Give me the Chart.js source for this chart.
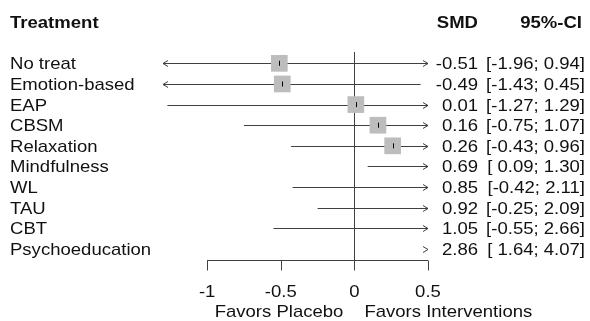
<!DOCTYPE html>
<html>
<head>
<meta charset="utf-8">
<script src="https://cdn.jsdelivr.net/npm/chart.js@4"></script>
<style>
  html, body { margin: 0; padding: 0; background: #fff; }
  canvas { display: block; }
</style>
</head>
<body>
<canvas id="forest" width="590" height="321"></canvas>
<script>
const treatments = ['No treat', 'Emotion-based', 'EAP', 'CBSM', 'Relaxation', 'Mindfulness', 'WL', 'TAU', 'CBT', 'Psychoeducation'];
const smd = [-0.51, -0.49, 0.01, 0.16, 0.26, 0.69, 0.85, 0.92, 1.05, 2.86];
const ciLower = [-1.96, -1.43, -1.27, -0.75, -0.43, 0.09, -0.42, -0.25, -0.55, 1.64];
const ciUpper = [0.94, 0.45, 1.29, 1.07, 0.96, 1.30, 2.11, 2.09, 2.66, 4.07];
const xTicks = [-1, -0.5, 0, 0.5];
const labelLeft = 'Favors Placebo';
const labelRight = 'Favors Interventions';

const X_MIN = -1.3, X_MAX = 0.5;
const FONT = '"Liberation Sans", Arial, sans-serif';
const SX = 1.09; // text looks a little wide in the original
const LINE = '#404040';

function txt(ctx, s, x, y, align, bold) {
    ctx.save();
    ctx.font = (bold ? 'bold ' : '') + '17px ' + FONT;
    ctx.fillStyle = '#111';
    ctx.textAlign = align;
    ctx.textBaseline = 'alphabetic';
    ctx.translate(x, y);
    ctx.scale(SX, 1);
    ctx.fillText(s, 0, 0);
    ctx.restore();
}

function fmt(v) { return v.toFixed(2); }
function ciText(i) {
    const lo = ciLower[i] < 0 ? fmt(ciLower[i]) : ' ' + fmt(ciLower[i]);
    return '[' + lo + '; ' + fmt(ciUpper[i]) + ']';
}

// CI lines, arrows, zero line and bottom axis
const forestLines = {
    id: 'forestLines',
    beforeDatasetsDraw(chart) {
        const { ctx, scales: { x, y } } = chart;
        ctx.save();
        ctx.strokeStyle = LINE;
        ctx.lineWidth = 1;

        // zero line
        const x0 = Math.round(x.getPixelForValue(0)) + 0.5;
        ctx.beginPath();
        ctx.moveTo(x0, y.getPixelForValue(-0.55));
        ctx.lineTo(x0, y.getPixelForValue(9.55));
        ctx.stroke();

        treatments.forEach((t, i) => {
            const py = Math.round(y.getPixelForValue(i)) + 0.5;
            const lo = Math.max(ciLower[i], X_MIN);
            const hi = Math.min(ciUpper[i], X_MAX);
            const pl = x.getPixelForValue(lo);
            const pr = x.getPixelForValue(hi);
            if (ciLower[i] < X_MAX && ciUpper[i] > X_MIN) {
                ctx.beginPath();
                ctx.moveTo(pl, py);
                ctx.lineTo(pr, py);
                ctx.stroke();
            }
            if (ciLower[i] < X_MIN) {
                ctx.beginPath();
                ctx.moveTo(pl + 5, py - 3);
                ctx.lineTo(pl, py);
                ctx.lineTo(pl + 5, py + 3);
                ctx.stroke();
            }
            if (ciUpper[i] > X_MAX) {
                ctx.beginPath();
                ctx.moveTo(pr - 5, py - 3);
                ctx.lineTo(pr, py);
                ctx.lineTo(pr - 5, py + 3);
                ctx.stroke();
            }
        });

        // bottom axis
        const ay = Math.round(y.getPixelForValue(9.55)) + 0.5;
        ctx.beginPath();
        ctx.moveTo(x.getPixelForValue(xTicks[0]), ay);
        ctx.lineTo(x.getPixelForValue(xTicks[xTicks.length - 1]), ay);
        xTicks.forEach(v => {
            const px = Math.round(x.getPixelForValue(v)) + 0.5;
            ctx.moveTo(px, ay);
            ctx.lineTo(px, ay + 10);
        });
        ctx.stroke();
        ctx.restore();
    },
    afterDatasetsDraw(chart) {
        const { ctx, scales: { x, y } } = chart;
        ctx.save();
        ctx.strokeStyle = '#000';
        ctx.lineWidth = 1;
        smd.forEach((v, i) => {
            if (v < X_MIN || v > X_MAX) return;
            const px = Math.round(x.getPixelForValue(v)) + 0.5;
            const py = y.getPixelForValue(i);
            ctx.beginPath();
            ctx.moveTo(px, py - 2.5);
            ctx.lineTo(px, py + 2.5);
            ctx.stroke();
        });
        ctx.restore();
    }
};

// text columns
const forestText = {
    id: 'forestText',
    afterDraw(chart) {
        const { ctx, scales: { x, y } } = chart;
        txt(ctx, 'Treatment', 10, 28, 'left', true);
        txt(ctx, 'SMD', 478, 28, 'right', true);
        txt(ctx, '95%-CI', 582, 28, 'right', true);
        treatments.forEach((t, i) => {
            const by = y.getPixelForValue(i) + 6;
            txt(ctx, t, 10, by, 'left');
            txt(ctx, fmt(smd[i]), 478, by, 'right');
            txt(ctx, ciText(i), 585, by, 'right');
        });
        xTicks.forEach(v => {
            txt(ctx, String(v), x.getPixelForValue(v), 297, 'center');
        });
        const x0 = x.getPixelForValue(0);
        txt(ctx, labelLeft, x0 - 11, 317, 'right');
        txt(ctx, labelRight, x0 + 10, 317, 'left');
    }
};

const squares = smd.map((v, i) => ({ x: v, y: i })).filter(p => p.x >= X_MIN && p.x <= X_MAX);

new Chart(document.getElementById('forest'), {
    type: 'scatter',
    data: {
        datasets: [{
            data: squares,
            pointStyle: 'rect',
            pointRadius: 11.8,
            pointHoverRadius: 11.8,
            backgroundColor: '#bdbdbd',
            borderWidth: 0,
            clip: false
        }]
    },
    options: {
        responsive: false,
        animation: false,
        events: [],
        layout: { padding: { left: 163, right: 162, top: 42.7, bottom: 51.4 } },
        plugins: {
            legend: { display: false },
            tooltip: { enabled: false }
        },
        scales: {
            x: { type: 'linear', min: X_MIN, max: X_MAX, display: false },
            y: { type: 'linear', min: -1, max: 10, reverse: true, display: false }
        }
    },
    plugins: [forestLines, forestText]
});
</script>
</body>
</html>
